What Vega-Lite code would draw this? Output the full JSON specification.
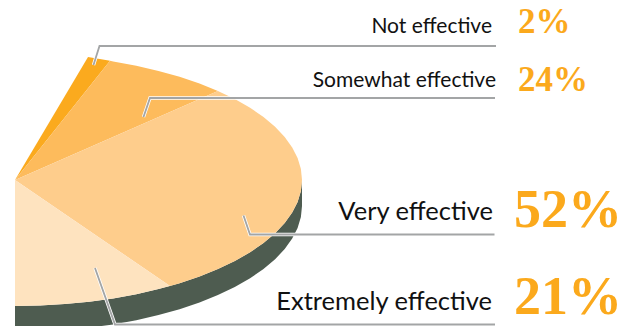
{
"$schema":"https://vega.github.io/schema/vega-lite/v6.json",
"width":638,"height":326,"padding":0,"autosize":{"type":"none"},
"background":"white",
"config":{"view":{"stroke":null}},
"datasets":{
"pie":[
{"part":"Side","seq":1,"x":302,"y":180},{"part":"Side","seq":2,"x":300.9,"y":191},{"part":"Side","seq":3,"x":297.6,"y":201.9},{"part":"Side","seq":4,"x":292.2,"y":212.6},{"part":"Side","seq":5,"x":284.7,"y":223.1},{"part":"Side","seq":6,"x":275.1,"y":233.2},{"part":"Side","seq":7,"x":263.5,"y":243},{"part":"Side","seq":8,"x":250.1,"y":252.3},{"part":"Side","seq":9,"x":234.8,"y":261},{"part":"Side","seq":10,"x":217.9,"y":269.1},{"part":"Side","seq":11,"x":199.5,"y":276.5},{"part":"Side","seq":12,"x":179.6,"y":283.2},{"part":"Side","seq":13,"x":158.5,"y":289.1},{"part":"Side","seq":14,"x":136.3,"y":294.2},{"part":"Side","seq":15,"x":113.2,"y":298.4},{"part":"Side","seq":16,"x":89.3,"y":301.7},{"part":"Side","seq":17,"x":64.8,"y":304.1},{"part":"Side","seq":18,"x":40,"y":305.5},{"part":"Side","seq":19,"x":15,"y":306},
{"part":"Side","seq":20,"x":15,"y":332},{"part":"Side","seq":21,"x":40,"y":331.5},{"part":"Side","seq":22,"x":64.8,"y":330.1},{"part":"Side","seq":23,"x":89.3,"y":327.7},{"part":"Side","seq":24,"x":113.2,"y":324.4},{"part":"Side","seq":25,"x":136.3,"y":320.2},{"part":"Side","seq":26,"x":158.5,"y":315.1},{"part":"Side","seq":27,"x":179.6,"y":309.2},{"part":"Side","seq":28,"x":199.5,"y":302.5},{"part":"Side","seq":29,"x":217.9,"y":295.1},{"part":"Side","seq":30,"x":234.8,"y":287},{"part":"Side","seq":31,"x":250.1,"y":278.3},{"part":"Side","seq":32,"x":263.5,"y":269},{"part":"Side","seq":33,"x":275.1,"y":259.2},{"part":"Side","seq":34,"x":284.7,"y":249.1},{"part":"Side","seq":35,"x":292.2,"y":238.6},{"part":"Side","seq":36,"x":297.6,"y":227.9},{"part":"Side","seq":37,"x":300.9,"y":217},{"part":"Side","seq":38,"x":302,"y":206},

{"part":"Not effective","seq":1,"x":15,"y":180},{"part":"Not effective","seq":2,"x":88,"y":57},{"part":"Not effective","seq":3,"x":110,"y":60.8},

{"part":"Somewhat effective","seq":1,"x":15,"y":180},{"part":"Somewhat effective","seq":2,"x":110,"y":60.8},{"part":"Somewhat effective","seq":3,"x":113.2,"y":61.6},{"part":"Somewhat effective","seq":4,"x":136.3,"y":65.8},{"part":"Somewhat effective","seq":5,"x":158.5,"y":70.9},{"part":"Somewhat effective","seq":6,"x":179.6,"y":76.8},{"part":"Somewhat effective","seq":7,"x":199.5,"y":83.5},{"part":"Somewhat effective","seq":8,"x":217.9,"y":90.9},

{"part":"Very effective","seq":1,"x":15,"y":180},{"part":"Very effective","seq":2,"x":217.9,"y":90.9},{"part":"Very effective","seq":3,"x":234.8,"y":99},{"part":"Very effective","seq":4,"x":250.1,"y":107.7},{"part":"Very effective","seq":5,"x":263.5,"y":117},{"part":"Very effective","seq":6,"x":275.1,"y":126.8},{"part":"Very effective","seq":7,"x":284.7,"y":136.9},{"part":"Very effective","seq":8,"x":292.2,"y":147.4},{"part":"Very effective","seq":9,"x":297.6,"y":158.1},{"part":"Very effective","seq":10,"x":300.9,"y":169},{"part":"Very effective","seq":11,"x":302,"y":180},{"part":"Very effective","seq":12,"x":300.9,"y":191},{"part":"Very effective","seq":13,"x":297.6,"y":201.9},{"part":"Very effective","seq":14,"x":292.2,"y":212.6},{"part":"Very effective","seq":15,"x":284.7,"y":223.1},{"part":"Very effective","seq":16,"x":275.1,"y":233.2},{"part":"Very effective","seq":17,"x":263.5,"y":243},{"part":"Very effective","seq":18,"x":250.1,"y":252.3},{"part":"Very effective","seq":19,"x":234.8,"y":261},{"part":"Very effective","seq":20,"x":217.9,"y":269.1},{"part":"Very effective","seq":21,"x":199.5,"y":276.5},{"part":"Very effective","seq":22,"x":179.6,"y":283.2},{"part":"Very effective","seq":23,"x":170,"y":286},

{"part":"Extremely effective","seq":1,"x":15,"y":180},{"part":"Extremely effective","seq":2,"x":170,"y":286},{"part":"Extremely effective","seq":3,"x":158.5,"y":289.1},{"part":"Extremely effective","seq":4,"x":136.3,"y":294.2},{"part":"Extremely effective","seq":5,"x":113.2,"y":298.4},{"part":"Extremely effective","seq":6,"x":89.3,"y":301.7},{"part":"Extremely effective","seq":7,"x":64.8,"y":304.1},{"part":"Extremely effective","seq":8,"x":40,"y":305.5},{"part":"Extremely effective","seq":9,"x":15,"y":306}
],
"leaders":[
{"part":"Not effective","seq":1,"x":93.5,"y":65},{"part":"Not effective","seq":2,"x":99.5,"y":46},{"part":"Not effective","seq":3,"x":496,"y":46},
{"part":"Somewhat effective","seq":1,"x":143.5,"y":117},{"part":"Somewhat effective","seq":2,"x":150,"y":98},{"part":"Somewhat effective","seq":3,"x":495,"y":98},
{"part":"Very effective","seq":1,"x":243.5,"y":215.5},{"part":"Very effective","seq":2,"x":250,"y":234.5},{"part":"Very effective","seq":3,"x":494.5,"y":234.5},
{"part":"Extremely effective","seq":1,"x":95,"y":268},{"part":"Extremely effective","seq":2,"x":115,"y":324.5},{"part":"Extremely effective","seq":3,"x":495,"y":324.5}
],
"labels":[
{"category":"Not effective","pct":"2%","share":2,"size":"small","labelX":492,"labelY":33,"pctX":518,"pctY":33},
{"category":"Somewhat effective","pct":"24%","share":24,"size":"small","labelX":496,"labelY":87,"pctX":518,"pctY":91},
{"category":"Very effective","pct":"52%","share":52,"size":"large","labelX":493,"labelY":220,"pctX":514,"pctY":227},
{"category":"Extremely effective","pct":"21%","share":21,"size":"large","labelX":492,"labelY":310,"pctX":514,"pctY":314}
]
},
"layer":[
{"data":{"name":"pie"},
 "mark":{"type":"line","clip":true,"strokeWidth":0},
 "encoding":{
  "x":{"field":"x","type":"quantitative","scale":{"domain":[0,638],"nice":false,"zero":false},"axis":null},
  "y":{"field":"y","type":"quantitative","scale":{"domain":[326,0],"nice":false,"zero":false},"axis":null},
  "order":{"field":"seq","type":"quantitative"},
  "detail":{"field":"part"},
  "fill":{"field":"part","type":"nominal","legend":null,"scale":{"domain":["Side","Not effective","Somewhat effective","Very effective","Extremely effective"],"range":["#4e5c50","#fbaa1e","#fdbb5c","#fecd8c","#fee3bf"]}}
 }},
{"data":{"name":"leaders"},
 "mark":{"type":"line","stroke":"white","strokeWidth":3.4,"strokeJoin":"miter","clip":true},
 "encoding":{"x":{"field":"x","type":"quantitative"},"y":{"field":"y","type":"quantitative"},"order":{"field":"seq","type":"quantitative"},"detail":{"field":"part"}}},
{"data":{"name":"leaders"},
 "mark":{"type":"line","stroke":"#a3a5a6","strokeWidth":1.8,"strokeJoin":"miter","clip":true},
 "encoding":{"x":{"field":"x","type":"quantitative"},"y":{"field":"y","type":"quantitative"},"order":{"field":"seq","type":"quantitative"},"detail":{"field":"part"}}},
{"data":{"name":"labels"},"transform":[{"filter":"datum.size === 'small'"}],
 "mark":{"type":"text","align":"right","baseline":"alphabetic","font":"Lato","fontSize":21,"fill":"#111111"},
 "encoding":{"x":{"field":"labelX","type":"quantitative"},"y":{"field":"labelY","type":"quantitative"},"text":{"field":"category"}}},
{"data":{"name":"labels"},"transform":[{"filter":"datum.size === 'large'"}],
 "mark":{"type":"text","align":"right","baseline":"alphabetic","font":"Lato","fontSize":25.5,"fill":"#111111"},
 "encoding":{"x":{"field":"labelX","type":"quantitative"},"y":{"field":"labelY","type":"quantitative"},"text":{"field":"category"}}},
{"data":{"name":"labels"},"transform":[{"filter":"datum.size === 'small'"}],
 "mark":{"type":"text","align":"left","baseline":"alphabetic","font":"Liberation Serif","fontWeight":"bold","fontSize":35,"fill":"#fba91c"},
 "encoding":{"x":{"field":"pctX","type":"quantitative"},"y":{"field":"pctY","type":"quantitative"},"text":{"field":"pct"}}},
{"data":{"name":"labels"},"transform":[{"filter":"datum.size === 'large'"}],
 "mark":{"type":"text","align":"left","baseline":"alphabetic","font":"Liberation Serif","fontWeight":"bold","fontSize":54,"fill":"#fba91c"},
 "encoding":{"x":{"field":"pctX","type":"quantitative"},"y":{"field":"pctY","type":"quantitative"},"text":{"field":"pct"}}}
]
}
